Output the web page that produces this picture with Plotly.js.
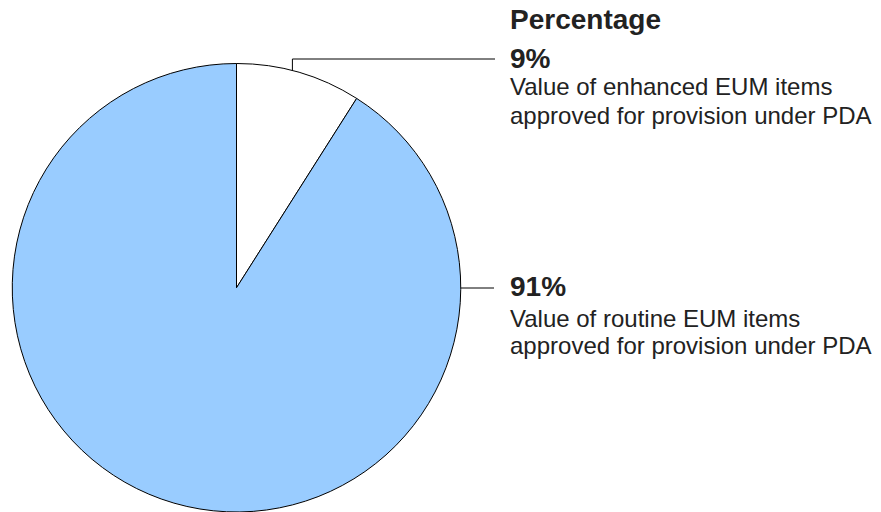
<!DOCTYPE html>
<html>
<head>
<meta charset="utf-8">
<script src="https://cdn.plot.ly/plotly-3.0.1.min.js"></script>
<style>html,body{margin:0;padding:0;background:#fff;}#chart{width:881px;height:512px;}</style>
</head>
<body>
<div id="chart"></div>
<script>
const labels = ["Value of enhanced EUM items approved for provision under PDA", "Value of routine EUM items approved for provision under PDA"];
const values = [9, 91];
const pctLabels = ["9%", "91%"];
const descLine1 = ["Value of enhanced EUM items", "Value of routine EUM items"];
const descLine2 = ["approved for provision under PDA", "approved for provision under PDA"];
const colors = ["#FFFFFF", "#99CCFF"];

const W = 881, H = 512;
const cx = 236.5, cy = 288, r = 224.5;
const px = x => x / W;
const py = y => (H - y) / H;

const font = "Liberation Sans, Arial, sans-serif";
const txtColor = "#222222";

const annotations = [
  {text: "<b>Percentage</b>", x: px(508), y: py(19.6), size: 28},
  {text: "<b>" + pctLabels[0] + "</b>", x: px(508), y: py(58), size: 28},
  {text: descLine1[0], x: px(508), y: py(86.7), size: 24},
  {text: descLine2[0], x: px(508), y: py(115), size: 24},
  {text: "<b>" + pctLabels[1] + "</b>", x: px(508), y: py(286.3), size: 28},
  {text: descLine1[1], x: px(508), y: py(318.4), size: 24},
  {text: descLine2[1], x: px(508), y: py(345.7), size: 24}
].map(a => ({
  text: a.text, x: a.x, y: a.y, xref: "paper", yref: "paper",
  xanchor: "left", yanchor: "middle", showarrow: false,
  font: {family: font, size: a.size, color: txtColor}
}));

// leader line for slice 1: from arc point near its mid angle
const ang1 = (values[0] / (values[0] + values[1])) * Math.PI; // half of slice angle
const ex = cx + r * Math.sin(ang1 * 0.89);
const ey = cy - r * Math.cos(ang1 * 0.89);
const shapes = [
  {type: "path", xref: "paper", yref: "paper",
   path: `M ${px(ex)} ${py(ey)} L ${px(ex)} ${py(59)} L ${px(495)} ${py(59)}`,
   line: {color: "#000", width: 1}},
  {type: "line", xref: "paper", yref: "paper",
   x0: px(cx + r), y0: py(cy), x1: px(494), y1: py(cy),
   line: {color: "#000", width: 1}}
];

const data = [{
  type: "pie",
  labels: labels,
  values: values,
  sort: false,
  direction: "clockwise",
  rotation: 0,
  textinfo: "none",
  hoverinfo: "label+percent",
  marker: {colors: colors, line: {color: "#000000", width: 1}},
  domain: {x: [px(cx - r), px(cx + r)], y: [Math.max(0, py(cy + r)), py(cy - r)]},
  showlegend: false
}];

const layout = {
  width: W, height: H,
  margin: {l: 0, r: 0, t: 0, b: 0},
  paper_bgcolor: "#fff", plot_bgcolor: "#fff",
  showlegend: false,
  annotations: annotations,
  shapes: shapes
};

Plotly.newPlot("chart", data, layout, {displayModeBar: false, staticPlot: true});
</script>
</body>
</html>
